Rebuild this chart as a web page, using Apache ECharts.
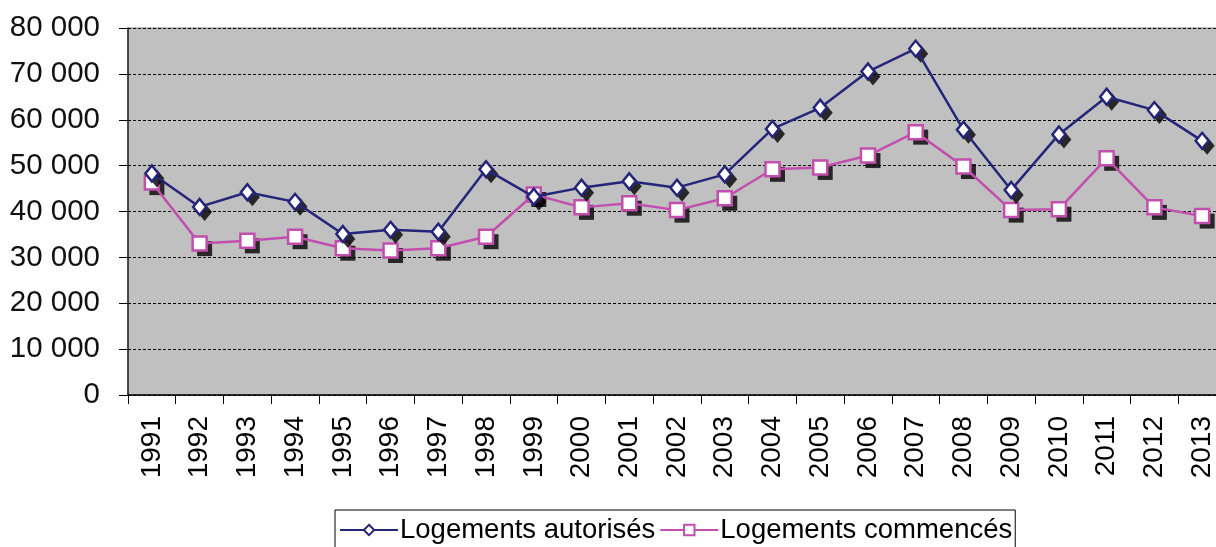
<!DOCTYPE html>
<html>
<head>
<meta charset="utf-8">
<script src="https://cdn.jsdelivr.net/npm/echarts@6/dist/echarts.min.js"></script>
<style>
html,body{margin:0;padding:0;background:#fff;}
#c{width:1216px;height:547px;}
</style>
</head>
<body>
<div id="c"></div>
<script>
const years = ['1991','1992','1993','1994','1995','1996','1997','1998','1999','2000','2001','2002','2003','2004','2005','2006','2007','2008','2009','2010','2011','2012','2013'];
const autorises = [48300,41000,44200,42100,35100,36000,35600,49200,43200,45200,46600,45200,48100,58000,62600,70500,75500,57800,44700,56800,65000,62100,55400];
const commences = [46300,33000,33600,34500,32000,31500,32000,34500,43700,40900,41800,40300,42900,49200,49600,52200,57300,49800,40300,40500,51600,40900,39000];
const yTicks = {min:0, max:80000, interval:10000};
const seriesNames = ['Logements autorisés','Logements commencés'];

const chart = echarts.init(document.getElementById('c'), null, {renderer:'canvas'});
const font = 'Liberation Sans, Arial, sans-serif';
const blue = '#25257a', pink = '#c24fae';
function shadowSeries(data, symbol, size, z){
  return {type:'scatter', data:data, symbol:symbol, symbolSize:size, symbolOffset:[5,5],
    itemStyle:{color:'#000'}, silent:true, z:z, legendHoverLink:false};
}
chart.setOption({
  animation:false,
  backgroundColor:'#fff',
  grid:{left:128, top:28, right:-10, bottom:152, containLabel:false, outerBoundsMode:'none',
        show:true, backgroundColor:'#c0c0c0', borderColor:'#8a8a8a', borderWidth:1},
  legend:{
    left:335, top:510, orient:'horizontal',
    data:seriesNames,
    itemWidth:58, itemHeight:13, itemGap:4,
    borderColor:'#000', borderWidth:1, padding:[6,3,30,4],
    textStyle:{fontFamily:font, fontSize:27.5, color:'#000', padding:[0,0,0,-3]}
  },
  xAxis:{
    type:'category', data:years, boundaryGap:true,
    axisLine:{show:true, lineStyle:{color:'#000', width:1.5}},
    axisTick:{show:true, length:9, lineStyle:{color:'#000', width:1}},
    axisLabel:{rotate:90, margin:21, fontFamily:font, fontSize:28, color:'#000'},
    splitLine:{show:false}
  },
  yAxis:{
    type:'value', min:yTicks.min, max:yTicks.max, interval:yTicks.interval,
    axisLine:{show:true, lineStyle:{color:'#222', width:1.5}},
    axisTick:{show:true, length:9, lineStyle:{color:'#000'}},
    axisLabel:{margin:28, fontFamily:font, fontSize:29.5, color:'#111',
      formatter:v=>String(v).replace(/\B(?=(\d{3})+(?!\d))/g,' ')},
    splitLine:{show:true, lineStyle:{color:'#000', width:1, type:[3,2]}}
  },
  series:[
    shadowSeries(commences, 'rect', 15, 3),
    shadowSeries(autorises, 'diamond', [15,18], 5),
    {name:seriesNames[1], type:'line', data:commences, symbol:'rect', symbolSize:14,
     showAllSymbol:true,
     lineStyle:{color:pink, width:2.5},
     itemStyle:{color:'#fff', borderColor:pink, borderWidth:2.5},
     z:4},
    {name:seriesNames[0], type:'line', data:autorises, symbol:'diamond', symbolSize:[13,16],
     showAllSymbol:true,
     lineStyle:{color:blue, width:2.5},
     itemStyle:{color:'#fff', borderColor:blue, borderWidth:2.5},
     z:6}
  ]
});
</script>
</body>
</html>
